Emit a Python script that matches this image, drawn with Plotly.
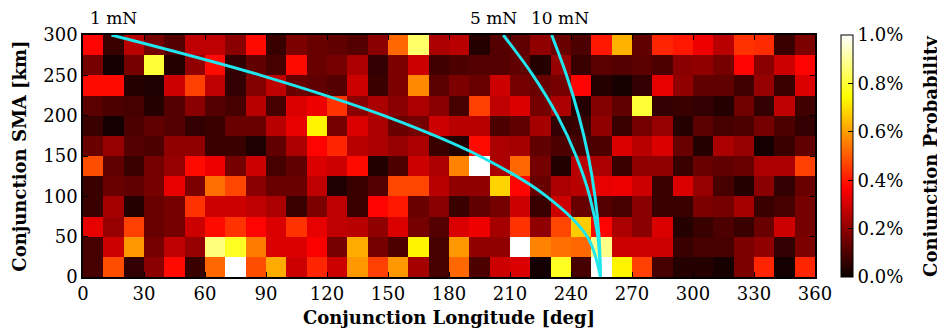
import plotly.graph_objects as go

# Bin centres
lon_centers = [5 + 10 * i for i in range(36)]
sma_centers = [12.5 + 25 * j for j in range(12)]

# Conjunction probability [%], one list per SMA band (bottom to top)
p_000_025 = [0.09,0.48,0.06,0.19,0.38,0.07,0.52,1.0,0.48,0.62,0.29,0.42,0.29,0.59,0.46,0.59,0.23,0.09,
             0.52,0.10,0.29,0.31,0.015,0.78,0.09,1.0,0.73,0.46,0.09,0.04,0.04,0.02,0.17,0.42,0.015,0.42]
p_025_050 = [0.09,0.29,0.59,0.16,0.27,0.21,0.87,0.78,0.55,0.31,0.31,0.36,0.16,0.62,0.16,0.10,0.73,0.09,
             0.59,0.20,0.20,1.0,0.56,0.53,0.52,0.88,0.29,0.29,0.29,0.07,0.09,0.09,0.17,0.20,0.06,0.17]
p_050_075 = [0.33,0.21,0.46,0.14,0.16,0.29,0.38,0.44,0.37,0.31,0.44,0.33,0.27,0.26,0.20,0.31,0.16,0.11,
             0.31,0.34,0.23,0.44,0.20,0.47,0.67,0.37,0.24,0.19,0.31,0.04,0.07,0.10,0.07,0.14,0.29,0.16]
p_075_100 = [0.07,0.23,0.04,0.14,0.16,0.44,0.29,0.29,0.27,0.24,0.07,0.17,0.27,0.07,0.37,0.40,0.14,0.19,
             0.07,0.13,0.16,0.29,0.07,0.29,0.14,0.11,0.09,0.19,0.07,0.07,0.17,0.16,0.23,0.07,0.09,0.16]
p_100_125 = [0.07,0.14,0.13,0.16,0.33,0.17,0.53,0.47,0.19,0.14,0.14,0.27,0.03,0.07,0.11,0.47,0.47,0.26,
             0.20,0.20,0.68,0.37,0.14,0.24,0.26,0.33,0.34,0.29,0.07,0.31,0.21,0.09,0.04,0.19,0.06,0.14]
p_125_150 = [0.48,0.13,0.07,0.16,0.21,0.38,0.34,0.16,0.29,0.09,0.13,0.31,0.29,0.38,0.035,0.10,0.29,0.24,
             0.56,1.0,0.24,0.52,0.16,0.035,0.26,0.24,0.07,0.20,0.20,0.07,0.14,0.13,0.14,0.24,0.24,0.46]
p_150_175 = [0.14,0.21,0.11,0.10,0.20,0.20,0.07,0.07,0.03,0.13,0.24,0.37,0.42,0.26,0.24,0.21,0.24,0.07,
             0.04,0.38,0.24,0.23,0.13,0.10,0.09,0.10,0.31,0.26,0.31,0.14,0.04,0.24,0.21,0.015,0.07,0.13]
p_175_200 = [0.07,0.015,0.10,0.13,0.11,0.06,0.07,0.14,0.14,0.26,0.33,0.73,0.16,0.31,0.24,0.14,0.16,0.29,
             0.26,0.26,0.10,0.13,0.23,0.06,0.07,0.20,0.07,0.16,0.21,0.04,0.12,0.09,0.10,0.16,0.10,0.06]
p_200_225 = [0.12,0.10,0.09,0.04,0.11,0.19,0.11,0.09,0.26,0.09,0.31,0.34,0.44,0.19,0.24,0.19,0.24,0.19,
             0.09,0.46,0.27,0.31,0.16,0.24,0.04,0.18,0.13,0.80,0.06,0.07,0.06,0.04,0.15,0.06,0.27,0.08]
p_225_250 = [0.38,0.38,0.04,0.03,0.29,0.46,0.27,0.06,0.18,0.27,0.14,0.13,0.11,0.29,0.07,0.17,0.57,0.12,
             0.17,0.14,0.29,0.16,0.14,0.16,0.37,0.04,0.02,0.06,0.33,0.20,0.13,0.13,0.08,0.21,0.07,0.31]
p_250_275 = [0.16,0.015,0.16,0.80,0.04,0.20,0.38,0.06,0.13,0.09,0.38,0.14,0.16,0.24,0.06,0.17,0.29,0.08,
             0.10,0.11,0.11,0.13,0.04,0.21,0.07,0.12,0.11,0.12,0.10,0.19,0.20,0.16,0.37,0.19,0.29,0.37]
p_275_300 = [0.37,0.07,0.26,0.16,0.11,0.27,0.27,0.19,0.38,0.07,0.17,0.14,0.13,0.11,0.19,0.52,0.85,0.24,
             0.26,0.04,0.11,0.13,0.20,0.14,0.10,0.40,0.63,0.13,0.42,0.40,0.34,0.26,0.44,0.43,0.07,0.17]

z = [p_000_025, p_025_050, p_050_075, p_075_100, p_100_125, p_125_150,
     p_150_175, p_175_200, p_200_225, p_225_250, p_250_275, p_275_300]

# Thrust curves
curve_sma = [0, 50, 100, 150, 200, 250, 300]
lon_1mN = [254.5, 248.0, 228.0, 195.0, 148.0, 87.5, 14.0]
lon_5mN = [254.5, 253.2, 249.2, 242.5, 233.3, 221.3, 206.7]
lon_10mN = [254.5, 253.8, 251.8, 248.5, 243.8, 237.8, 230.5]
curve_labels = ["1 mN", "5 mN", "10 mN"]
label_lon = [14.9, 201.7, 234.5]

x_ticks = list(range(0, 361, 30))
y_ticks = list(range(0, 301, 50))
cb_ticks = [0.0, 0.2, 0.4, 0.6, 0.8, 1.0]

hot = [[0.0, "rgb(10,0,0)"], [0.365079, "rgb(255,0,0)"],
       [0.746032, "rgb(255,255,0)"], [1.0, "rgb(255,255,255)"]]

FONT = "DejaVu Serif"

# the page body has an 8px margin; the figure is sized to fit the window
fig = go.Figure()
fig.add_trace(go.Heatmap(
    x=lon_centers, y=sma_centers, z=z, zmin=0, zmax=1, colorscale=hot,
    xgap=0, ygap=0,
    colorbar=dict(
        x=1.0355, xanchor="left", xref="paper", xpad=0, ypad=0,
        y=0.5, yanchor="middle",
        len=1.0, lenmode="fraction", thickness=12,
        outlinecolor="black", outlinewidth=1,
        tickvals=cb_ticks, ticktext=[f"{v:.1f}%" for v in cb_ticks],
        ticks="inside", ticklen=5, tickcolor="black",
        tickfont=dict(family=FONT, size=18, color="black"),
    ),
    showscale=True,
))

for lons in (lon_1mN, lon_5mN, lon_10mN):
    fig.add_trace(go.Scatter(
        x=lons, y=curve_sma, mode="lines",
        line=dict(color="#1FE6EF", width=3, shape="spline"),
        showlegend=False, hoverinfo="skip"))

for txt, lx in zip(curve_labels, label_lon):
    fig.add_annotation(x=lx, xref="x", y=1, yref="paper", yanchor="bottom",
                       yshift=5, text=txt, showarrow=False,
                       font=dict(family=FONT, size=17, color="black"))

# colour-bar title
fig.add_annotation(x=1.157, xref="paper", y=0.5, yref="paper",
                   xanchor="center", yanchor="middle", textangle=-90,
                   text="<b>Conjunction Probability</b>", showarrow=False,
                   font=dict(family=FONT, size=18, color="black"))

axis_common = dict(
    showline=True, linecolor="black", linewidth=1.5, mirror="ticks",
    ticks="inside", ticklen=5, tickcolor="black",
    showgrid=True, gridcolor="black", gridwidth=1, griddash="dot",
    zeroline=False, layer="above traces", automargin=False,
    tickfont=dict(family=FONT, size=18, color="black"),
)

fig.update_xaxes(range=[0, 360], tickvals=x_ticks, **axis_common,
                 title=dict(text="Conjunction Longitude [deg]", standoff=8,
                            font=dict(family=FONT, size=18, color="black", weight="bold")))
fig.update_yaxes(range=[0, 300], tickvals=y_ticks, **axis_common,
                 title=dict(text="Conjunction SMA [km]", standoff=12,
                            font=dict(family=FONT, size=18, color="black", weight="bold")))

fig.update_layout(
    width=937, height=323,
    margin=dict(l=75, r=130, t=27, b=54, autoexpand=False),
    paper_bgcolor="white", plot_bgcolor="white",
    showlegend=False,
)

fig.write_html("out.html")
